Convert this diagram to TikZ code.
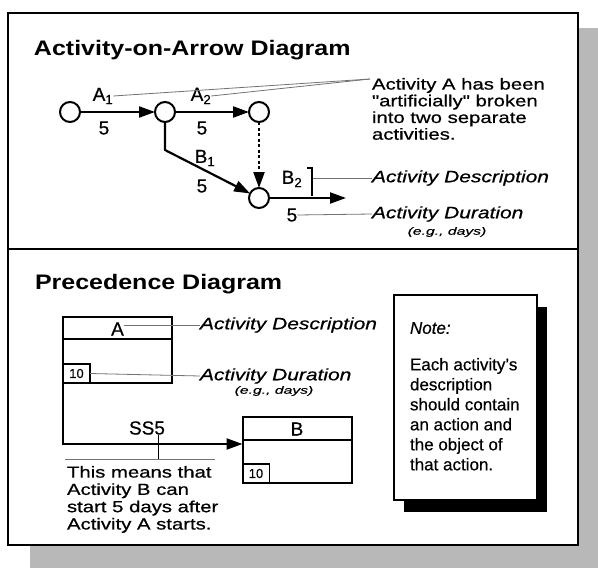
\documentclass[tikz,border=0pt]{standalone}
\usepackage{fontspec}
\setmainfont{Liberation Sans}[FakeBold=0.5]
\newfontfamily\widefont{Liberation Sans}[FakeStretch=1.27, FakeBold=0.6]
\newfontfamily\titlefont{Liberation Sans}[FakeStretch=1.19]
\newfontfamily\egfont{Liberation Sans}[FakeStretch=1.5, FakeBold=0.5]
\usetikzlibrary{arrows.meta,shadows}
\begin{document}
\begin{tikzpicture}[x=1pt,y=-1pt,
  every node/.style={inner sep=0pt, outer sep=0pt},
  circ/.style={circle, draw, line width=2pt, minimum size=20pt, fill=white},
  arr/.style={line width=2.2pt, -{Triangle[length=16pt,width=11pt]}},
  lead/.style={black!55, line width=0.8pt},
  ttl/.style={font=\titlefont\bfseries\fontsize{21}{24}\selectfont, anchor=west},
  lbl/.style={font=\fontsize{19}{19}\selectfont},
  body/.style={font=\widefont\fontsize{16}{16.7}\selectfont, align=left, anchor=north west},
  itl/.style={font=\widefont\itshape\fontsize{16.5}{18}\selectfont, anchor=west},
  eg/.style={font=\egfont\itshape\fontsize{10.5}{12}\selectfont},
  actbox/.style={draw, line width=2pt, minimum width=109pt, minimum height=66pt},
  durbox/.style={draw, line width=1.6pt, minimum width=27pt, minimum height=19pt, font=\fontsize{13}{13}\selectfont},
]
\useasboundingbox (0,0) rectangle (598,568);
% frame and shadow
\fill[black!28] (30,28) rectangle (598,568);
\draw[line width=2.6pt, fill=white] (8,13) rectangle (578,545);
\draw[line width=2.6pt] (8,249) -- (578,249);

% titles
\node[ttl] (t1) at (34,50) {Activity-on-Arrow Diagram};
\node[ttl] (t2) at (35,284) {Precedence Diagram};

% activity-on-arrow network
\node[circ] (c1) at (70,112) {};
\node[circ] (c2) at (165,112) {};
\node[circ] (c3) at (259,112) {};
\node[circ] (c4) at (259,198) {};
\coordinate (bk) at (165,150);
\coordinate (out) at (346,198);
\draw[arr] (c1) -- (c2);
\draw[arr] (c2) -- (c3);
\draw[arr, line join=round] (c2) -- (bk) -- (c4);
\draw[arr, dash pattern=on 3pt off 2.5pt] (c3) -- (c4);
\draw[arr] (c4) -- (out);

\node[lbl] (la1) at (103,96) {A\textsubscript{1}};
\node[lbl] (d1) at (104,128) {5};
\node[lbl] (la2) at (201,96) {A\textsubscript{2}};
\node[lbl] (d2) at (202,128) {5};
\node[lbl] (lb1) at (205,158) {B\textsubscript{1}};
\node[lbl] (d3) at (202,186) {5};
\node[lbl] (lb2) at (292,179) {B\textsubscript{2}};
\node[lbl] (d4) at (292,215) {5};

\node[body] (expl) at (372,78) {Activity A has been\\"artificially" broken\\into two separate\\activities.};
\coordinate (j1) at (370,79);
\draw[lead] (la1.east) -- (j1);
\draw[lead] (la2.east) -- (j1);

\coordinate (bt) at (312,168);
\coordinate (brk) at (313,178);
\draw[line width=1.1pt] (307,168) -- (bt) -- (312,196);
\node[itl] (desc1) at (372,178) {Activity Description};
\node[itl] (dur1) at (372,214) {Activity Duration};
\node[eg] (eg1) at (447,232) {(e.g., days)};
\draw[lead] (brk) -- (desc1.west);
\draw[lead] (d4.east) -- (dur1.west);

% precedence diagram
\node[actbox] (boxA) at (117.5,350) {};
\draw[line width=2pt] ([yshift=-22pt]boxA.north west) -- ([yshift=-22pt]boxA.north east);
\node[font=\fontsize{19}{19}\selectfont] (lA) at (117.5,329) {A};
\node[durbox, anchor=south west] (dA) at (boxA.south west) {10};

\node[itl] (desc2) at (200,325) {Activity Description};
\node[itl] (dur2) at (200,376) {Activity Duration};
\node[eg] (eg2) at (274,391) {(e.g., days)};
\draw[lead] (lA.east |- desc2.west) -- (desc2.west);
\draw[lead] (dA.east) -- (dur2.west);

\node[actbox] (boxB) at (297,450) {};
\draw[line width=2pt] ([yshift=-23pt]boxB.north west) -- ([yshift=-23pt]boxB.north east);
\node[font=\fontsize{19}{19}\selectfont] (lB) at (297,429) {B};
\node[durbox, anchor=south west] (dB) at (boxB.south west) {10};

\coordinate (bendA) at (63,444);
\draw[arr] (boxA.south west) -- (bendA) -- (bendA -| boxB.west);

\node[font=\fontsize{19}{19}\selectfont] (ss) at (147,428) {SS5};
\coordinate (tk) at (158,459);
\draw[line width=0.9pt] (ss.south -| tk) -- (tk);
\coordinate (gl1) at (65,459);
\coordinate (gl2) at (215,459);
\draw[lead] (gl1) -- (gl2);
\node[body, font=\widefont\fontsize{16}{17.3}\selectfont] (mean) at (67,466) {This means that\\Activity B can\\start 5 days after\\Activity A starts.};

% note
\node[draw, line width=1.5pt, fill=white, minimum width=143pt, minimum height=205pt,
  drop shadow={shadow xshift=10pt, shadow yshift=-12pt, fill=black, opacity=1}] (note) at (465.5,397.5) {};
\node[font=\itshape\fontsize{17}{20}\selectfont, anchor=west] (nt) at (410,328) {Note:};
\node[font=\fontsize{17}{20}\selectfont, align=left, anchor=north west] (nb) at (410,358) {Each activity's\\description\\should contain\\an action and\\the object of\\that action.};
\end{tikzpicture}
\end{document}
